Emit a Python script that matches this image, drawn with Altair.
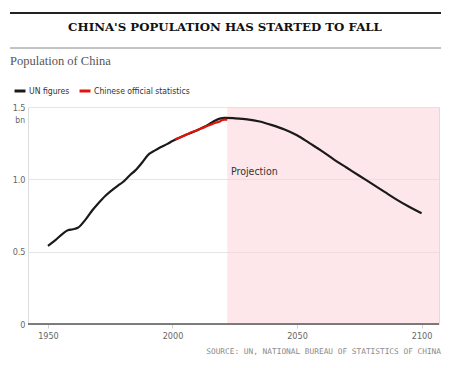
import altair as alt
import pandas as pd

# UN figures (bn), incl. projection
un_years = [1950, 1953, 1956, 1958, 1960, 1962, 1965, 1968, 1970, 1973, 1975, 1978, 1980, 1983, 1985, 1988,
            1990, 1993, 1995, 1998, 2000, 2003, 2005, 2008, 2010, 2013, 2015, 2017, 2019, 2021,
            2025, 2030, 2035, 2040, 2045, 2050, 2055, 2060, 2065, 2070, 2075, 2080, 2085, 2090, 2095, 2100]
un_values = [0.54, 0.58, 0.625, 0.648, 0.655, 0.665, 0.72, 0.79, 0.83, 0.885, 0.915, 0.955, 0.98, 1.03, 1.06, 1.12,
             1.165, 1.20, 1.22, 1.245, 1.265, 1.29, 1.305, 1.325, 1.34, 1.365, 1.385, 1.405, 1.42, 1.425,
             1.422, 1.415, 1.40, 1.375, 1.345, 1.305, 1.25, 1.195, 1.135, 1.08, 1.025, 0.97, 0.915, 0.86, 0.81, 0.765]

# Chinese official statistics (bn)
cn_years = [2001, 2004, 2007, 2010, 2013, 2015, 2017, 2019, 2020, 2021, 2022]
cn_values = [1.276, 1.296, 1.321, 1.341, 1.361, 1.375, 1.39, 1.40, 1.41, 1.413, 1.412]

series_names = ["UN figures", "Chinese official statistics"]
series_colors = ["#1a1a1a", "#e3120b"]

x_domain = [1942, 2107]
y_ticks = [0, 0.5, 1.0, 1.5]
x_ticks = [1950, 2000, 2050, 2100]

shade_start = [2022]
shade_end = [2107]

anno_text = ["Projection"]
anno_x = [2023.5]
anno_y = [1.05]

df = pd.concat([
    pd.DataFrame({"year": un_years, "value": un_values, "series": series_names[0]}),
    pd.DataFrame({"year": cn_years, "value": cn_values, "series": series_names[1]}),
])
shade_df = pd.DataFrame({"start": shade_start, "end": shade_end})
anno_df = pd.DataFrame({"text": anno_text, "x": anno_x, "y": anno_y})

LABEL_FONT = "DejaVu Sans Condensed, Roboto, sans-serif"
W, H = 411, 217

xscale = alt.Scale(domain=x_domain, nice=False, zero=False)
yscale = alt.Scale(domain=[0, 1.5], nice=False)

x_axis = alt.Axis(values=x_ticks, format="d", title=None, grid=False,
                  domain=False, tickSize=4, tickColor="#d0d0d0",
                  labelFont=LABEL_FONT, labelFontSize=9, labelColor="#666666",
                  labelPadding=3)

shade = alt.Chart(shade_df).mark_rect(color="#fbd0d6", opacity=0.5).encode(
    x=alt.X("start:Q", scale=xscale, axis=x_axis),
    x2="end:Q",
    y=alt.value(0),
    y2=alt.value(H),
)

lines = alt.Chart(df).mark_line(strokeWidth=2.2, interpolate="monotone").encode(
    x=alt.X("year:Q", scale=xscale, axis=x_axis),
    y=alt.Y("value:Q", scale=yscale,
            axis=alt.Axis(values=y_ticks, title=None, grid=True, gridColor="#e6e6e6",
                          domain=False, ticks=False, labelAlign="right", labelPadding=3,
                          labelExpr="datum.value == 0 ? '0' : format(datum.value, '.1f')",
                          labelFont=LABEL_FONT, labelFontSize=9, labelColor="#666666",
                          labelBaseline="middle")),
    color=alt.Color("series:N",
                    scale=alt.Scale(domain=series_names, range=series_colors),
                    sort=series_names,
                    legend=alt.Legend(orient="none", legendX=-15, legendY=-23,
                                      direction="horizontal", title=None,
                                      symbolType="stroke", symbolStrokeWidth=3,
                                      symbolSize=120, labelFont=LABEL_FONT,
                                      labelFontSize=8.6, labelColor="#333333",
                                      columnPadding=3, symbolOffset=0, labelOffset=2)),
    detail="series:N",
)

baseline = alt.Chart(pd.DataFrame({"y": [0]})).mark_rule(color="#555555", strokeWidth=1.5).encode(
    y=alt.Y("y:Q", scale=yscale),
    x=alt.value(0), x2=alt.value(W),
)

anno = alt.Chart(anno_df).mark_text(align="left", baseline="middle", font=LABEL_FONT,
                                    fontSize=10.5, color="#333333").encode(
    x=alt.X("x:Q", scale=xscale), y=alt.Y("y:Q", scale=yscale), text="text:N")

def txt(s, x, y, **kw):
    return alt.Chart(pd.DataFrame({"t": [s]})).mark_text(**kw).encode(
        x=alt.value(x), y=alt.value(y), text="t:N")

def hrule(y, color, sw):
    return alt.Chart(pd.DataFrame({"a": [0]})).mark_rule(color=color, strokeWidth=sw).encode(
        x=alt.value(-18), x2=alt.value(413), y=alt.value(y))

top_rule = hrule(-94, "#222222", 2)
mid_rule = hrule(-59, "#888888", 1)
title = txt("CHINA'S POPULATION HAS STARTED TO FALL", 197, -80, font="DejaVu Serif",
            fontSize=11.8, fontWeight="bold", align="center", baseline="middle",
            color="#111111")
subtitle = txt("Population of China", -18, -46, font="Liberation Serif", fontSize=12.5,
               align="left", baseline="middle", color="#555555")
unit = txt("bn", -3, 13, font=LABEL_FONT, fontSize=8.5, align="right", baseline="middle",
           color="#666666")
source = txt("SOURCE: UN, NATIONAL BUREAU OF STATISTICS OF CHINA", 413, 245, font="DejaVu Sans Mono",
             fontSize=7.8, align="right", baseline="middle", color="#8a8a8a")

chart = alt.layer(shade, baseline, lines, anno, top_rule, mid_rule, title, subtitle, unit, source).properties(
    width=W, height=H,
    autosize=alt.AutoSizeParams(type="none"),
    padding={"left": 20, "top": 99, "right": 4, "bottom": 34},
).configure_view(stroke=None).configure(background="white")

chart.save("out.html", embed_options={"renderer": "svg", "actions": False})
